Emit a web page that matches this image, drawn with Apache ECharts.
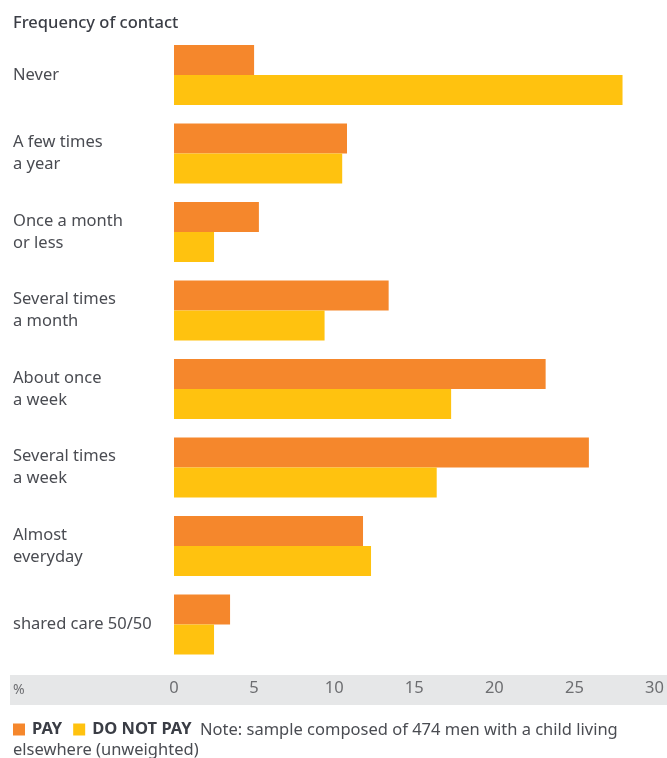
<!DOCTYPE html>
<html><head><meta charset="utf-8">
<script src="https://cdn.jsdelivr.net/npm/echarts@6/dist/echarts.min.js"></script>
<style>html,body{margin:0;padding:0;background:#fff}#c{width:667px;height:758px}</style>
</head><body><div id="c"></div>
<script>
const categories = ["Never","A few times\na year","Once a month\nor less","Several times\na month","About once\na week","Several times\na week","Almost\neveryday","shared care 50/50"];
const payValues = [5.0, 10.8, 5.3, 13.4, 23.2, 25.9, 11.8, 3.5];
const doNotPayValues = [28.0, 10.5, 2.5, 9.4, 17.3, 16.4, 12.3, 2.5];
const xTicks = [0, 5, 10, 15, 20, 25, 30];

const FONT = '"Noto Sans", "Open Sans", sans-serif';
const FS = 16.5;
const chart = echarts.init(document.getElementById('c'), null, {renderer:'canvas'});
chart.setOption({
  animation:false,
  textStyle:{fontFamily:FONT},
  title:{text:'Frequency of contact', left:8, top:10, textStyle:{fontFamily:FONT, fontSize:FS, fontWeight:500, color:'#3a3d45'}},
  graphic:[
    {type:'rect', z:-1, shape:{x:10, y:675, width:657, height:30}, style:{fill:'#e6e7e8'}},
    {type:'text', x:13, y:690, style:{text:'%', font:'14px '+FONT, fill:'#6d6e71', verticalAlign:'middle'}},
    {type:'text', x:200, y:730, style:{text:'Note: sample composed of 474 men with a child living', font:FS+'px '+FONT, fill:'#4a4c52', verticalAlign:'middle'}},
    {type:'text', x:13, y:750, style:{text:'elsewhere (unweighted)', font:FS+'px '+FONT, fill:'#4a4c52', verticalAlign:'middle'}}
  ],
  legend:{left:13, top:721, padding:0, itemWidth:12, itemHeight:12, itemGap:11, icon:'rect',
    textStyle:{fontFamily:FONT, fontSize:FS, fontWeight:'bold', color:'#3a3d45', padding:[0,0,0,2]},
    data:['PAY','DO NOT PAY']},
  grid:{left:174, right:8.5, top:35.75, bottom:758-663.75, containLabel:false},
  xAxis:{type:'value', min:0, max:30, interval:5, position:'bottom',
    axisLine:{show:false}, axisTick:{show:false}, splitLine:{show:false},
    axisLabel:{margin:16, fontFamily:FONT, fontSize:FS, color:'#6d6e71',
      customValues: xTicks}},
  yAxis:{type:'category', data:categories, inverse:true,
    axisLine:{show:false}, axisTick:{show:false},
    axisLabel:{align:'left', margin:161, fontFamily:FONT, fontSize:FS, color:'#4a4c52', lineHeight:22, padding:[5,0,0,0]}},
  series:[
    {name:'PAY', type:'bar', data:payValues, itemStyle:{color:'#f5872c'}, barWidth:30, barGap:'0%', barCategoryGap:'23.6%'},
    {name:'DO NOT PAY', type:'bar', data:doNotPayValues, itemStyle:{color:'#ffc20f'}, barWidth:30, barGap:'0%', barCategoryGap:'23.6%'}
  ]
});
</script></body></html>
